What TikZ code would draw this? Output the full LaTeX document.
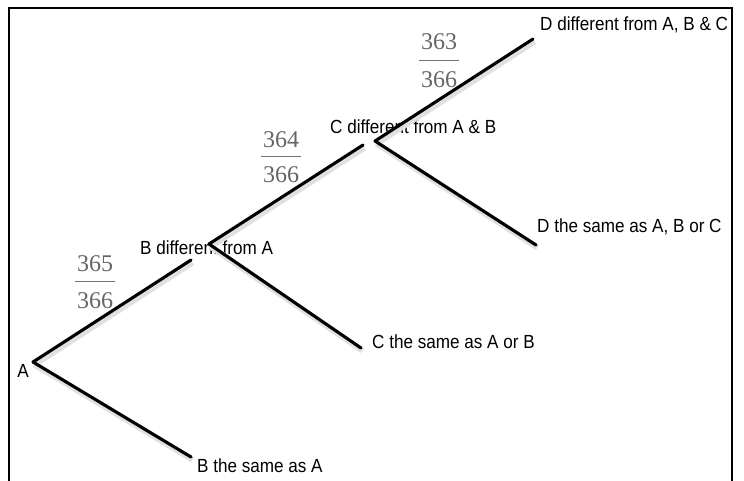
\documentclass[tikz,border=0pt]{standalone}
\usepackage{fontspec}
\setmainfont[FakeStretch=0.9]{Liberation Sans}
\newfontfamily\fracfont{Liberation Serif}
\usetikzlibrary{positioning}

\tikzset{
  lbl/.style={anchor=west, inner sep=0pt, font=\fontsize{19}{22}\selectfont},
  branch/.style={line width=3.1pt, line cap=round,
    preaction={draw=black!12, line width=6pt, transform canvas={shift={(1.5pt,-2.5pt)}}}},
  num/.style={inner xsep=2pt, inner ysep=0pt, text=black!60, font=\fracfont\fontsize{24}{28}\selectfont},
  fracbar/.style={black!55, line width=1.3pt},
}

\begin{document}
\begin{tikzpicture}[x=1pt, y=-1pt]
\useasboundingbox (0,0) rectangle (744,480);
\draw[line width=2pt] (9,481) -- (9,8) -- (732,8) -- (732,481);

% first split
\node[lbl, anchor=east] (A) at (29,371) {A};
\coordinate (a) at (33,362);
\node[lbl] (Bdiff) at (140,248) {B different from A};
\node[lbl] (Bsame) at (197,466) {B the same as A};
\coordinate (b0) at (191,260);
\coordinate (bs) at (191,457);
\draw[branch] (a) -- (b0);
\draw[branch] (a) -- (bs);
\node[num] (f1n) at (95,264) {365};
\node[num] (f1d) at (95,301) {366};
\draw[fracbar] ([yshift=-9pt]f1n.south west) -- ([yshift=-9pt]f1n.south east);

% second split
\coordinate (b) at (209,244);
\node[lbl] (Cdiff) at (330,127) {C different from A \& B};
\node[lbl] (Csame) at (372,342) {C the same as A or B};
\coordinate (c0) at (363,145);
\coordinate (cs) at (361,348);
\draw[branch] (b) -- (c0);
\draw[branch] (b) -- (cs);
\node[num] (f2n) at (281,140) {364};
\node[num] (f2d) at (281,175) {366};
\draw[fracbar] ([yshift=-8pt]f2n.south west) -- ([yshift=-8pt]f2n.south east);

% third split
\coordinate (c) at (375,141);
\node[lbl] (Ddiff) at (540,25) {D different from A, B \& C};
\node[lbl] (Dsame) at (537,227) {D the same as A, B or C};
\coordinate (d1) at (533,39);
\coordinate (d2) at (536,245);
\draw[branch] (c) -- (d1);
\draw[branch] (c) -- (d2);
\node[num] (f3n) at (439,42) {363};
\node[num] (f3d) at (439,80) {366};
\draw[fracbar] ([yshift=-10pt]f3n.south west) -- ([yshift=-10pt]f3n.south east);
\end{tikzpicture}
\end{document}
